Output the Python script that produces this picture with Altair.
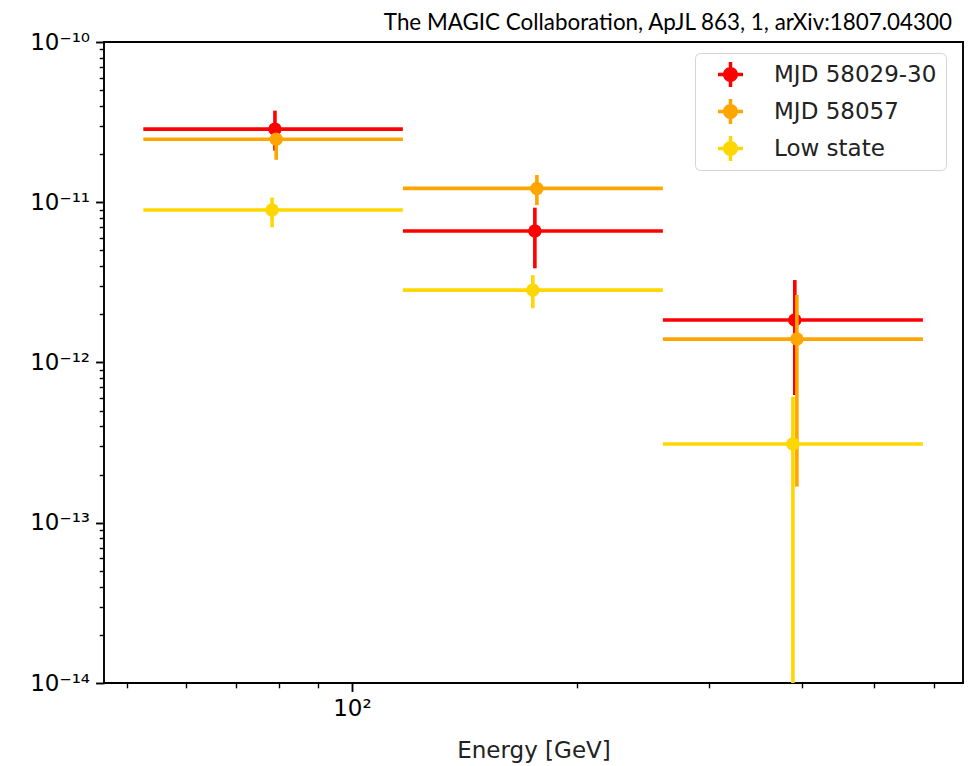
import altair as alt
import pandas as pd

# ---------------- data ----------------
series = ["MJD 58029-30", "MJD 58057", "Low state"]
colors = ["#ff0000", "#ffa500", "#ffd700"]

bin_lo = [52.6, 117.0, 260.6]
bin_hi = [117.0, 260.6, 580.6]

x_red = [78.9, 175.7, 391.3]
x_orange = [79.2, 176.8, 393.8]
x_low = [78.2, 174.6, 389.0]

flux_red = [2.86e-11, 6.62e-12, 1.84e-12]
flux_red_lo = [2.10e-11, 3.87e-12, 6.27e-13]
flux_red_hi = [3.73e-11, 9.25e-12, 3.27e-12]

flux_orange = [2.47e-11, 1.22e-11, 1.40e-12]
flux_orange_lo = [1.84e-11, 9.6e-12, 1.68e-13]
flux_orange_hi = [2.70e-11, 1.48e-11, 2.64e-12]

flux_low = [8.95e-12, 2.83e-12, 3.10e-13]
flux_low_lo = [6.98e-12, 2.18e-12, 1e-15]
flux_low_hi = [1.07e-11, 3.51e-12, 6.11e-13]

x_domain = [46.6, 656.9]
y_domain = [1e-14, 1e-10]
x_ticks = [50, 60, 70, 80, 90, 100, 200, 300, 400, 500, 600]
x_major = {100: "10²"}
y_major = {-14: "10⁻¹⁴", -13: "10⁻¹³", -12: "10⁻¹²", -11: "10⁻¹¹", -10: "10⁻¹⁰"}
y_ticks = [1e-10] + [m * 10.0 ** k for k in range(-14, -10) for m in range(1, 10)]

title_text = ["The MAGIC Collaboration, ApJL 863, 1, arXiv:1807.04300"]

# ---------------- styling ----------------
FONT = "DejaVu Sans"
FS = 23
LW = 3.6
W, H = 859, 641

exp_expr = "round(log(datum.value)/LN10)"
major_test = f"abs(log(datum.value)/LN10 - {exp_expr}) < 0.001"
y_label_expr = f"{major_test} ? (" + " : ".join(
    f"{exp_expr} == {k} ? '{v}'" for k, v in y_major.items()) + " : '') : ''"
x_label_expr = " : ".join(f"abs(datum.value - {k}) < 0.01 ? '{v}'" for k, v in x_major.items()) + " : ''"
x_major_test = " || ".join(f"abs(datum.value - {k}) < 0.01" for k in x_major)

xscale = alt.Scale(type="log", domain=x_domain, nice=False, zero=False)
yscale = alt.Scale(type="log", domain=y_domain, nice=False, zero=False)
cscale = alt.Scale(domain=series, range=colors)

xaxis = alt.Axis(
    title="Energy [GeV]", values=x_ticks, labelExpr=x_label_expr, grid=False,
    domain=False, labelOverlap=False, labelFlush=False,
    tickSize={"condition": {"test": x_major_test, "value": 8.4}, "value": 4.8},
    tickWidth={"condition": {"test": x_major_test, "value": 1.9}, "value": 1.4},
    labelPadding=6, titlePadding=19,
)
yaxis = alt.Axis(
    title=None, values=y_ticks, labelExpr=y_label_expr, grid=False,
    domain=False, labelOverlap=False, labelFlush=False,
    tickSize={"condition": {"test": major_test, "value": 8.4}, "value": 4.8},
    tickWidth={"condition": {"test": major_test, "value": 1.9}, "value": 1.4},
    labelPadding=6,
)

legend_symbol = ("M-0.6,0 A0.6,0.6 0 1,1 0.6,0 A0.6,0.6 0 1,1 -0.6,0 Z "
                 "M-0.14,-1 L0.14,-1 L0.14,1 L-0.14,1 Z "
                 "M-1,-0.14 L1,-0.14 L1,0.14 L-1,0.14 Z")
legend = alt.Legend(
    title=None, orient="none", legendX=591, legendY=11,
    symbolType=legend_symbol, symbolSize=625, symbolStrokeWidth=0,
    symbolOffset=14, labelOffset=31, rowPadding=12, padding=9, labelLimit=0,
    labelFont=FONT, labelFontSize=FS, labelColor="#222222",
    strokeColor="#d5d5d5", cornerRadius=5, fillColor="white",
)
color_enc = alt.Color("series:N", scale=cscale, legend=legend)

# empty point layer first, so that the shared legend uses filled symbols
legend_df = pd.DataFrame({"series": series, "e": [100.0] * 3, "flux": [1e-12] * 3})
legend_layer = alt.Chart(legend_df).transform_filter("false").mark_circle(size=180, opacity=1).encode(
    x=alt.X("e:Q", scale=xscale, axis=xaxis),
    y=alt.Y("flux:Q", scale=yscale, axis=yaxis),
    color=color_enc)


def layers(name, xs, f, lo, hi):
    df = pd.DataFrame({"series": name, "e": xs, "elo": bin_lo, "ehi": bin_hi,
                       "flux": f, "lo": lo, "hi": hi})
    base = alt.Chart(df)
    h = base.mark_rule(strokeWidth=LW, clip=True).encode(
        x=alt.X("elo:Q", scale=xscale, axis=xaxis), x2="ehi:Q",
        y=alt.Y("flux:Q", scale=yscale, axis=yaxis), color=color_enc)
    v = base.mark_rule(strokeWidth=LW, clip=True).encode(
        x=alt.X("e:Q", scale=xscale, axis=xaxis),
        y=alt.Y("lo:Q", scale=yscale, axis=yaxis), y2="hi:Q", color=color_enc)
    p = base.mark_circle(size=180, opacity=1, clip=True).encode(
        x=alt.X("e:Q", scale=xscale, axis=xaxis),
        y=alt.Y("flux:Q", scale=yscale, axis=yaxis), color=color_enc)
    return [h, v, p]


title_layer = alt.Chart(pd.DataFrame({"t": title_text})).mark_text(
    font="Lato", fontSize=22.4, align="right", baseline="alphabetic", color="black",
).encode(x=alt.value(W - 11), y=alt.value(-12), text="t:N")

all_layers = ([legend_layer]
              + layers(series[0], x_red, flux_red, flux_red_lo, flux_red_hi)
              + layers(series[1], x_orange, flux_orange, flux_orange_lo, flux_orange_hi)
              + layers(series[2], x_low, flux_low, flux_low_lo, flux_low_hi)
              + [title_layer])

chart = alt.layer(*all_layers).properties(
    width=W, height=H,
    autosize=alt.AutoSizeParams(type="none"),
    padding={"left": 104, "top": 42, "right": 7, "bottom": 83},
    background="white",
).configure_view(stroke="black", strokeWidth=1.9).configure_axis(
    labelFont=FONT, labelFontSize=FS, labelColor="black", tickColor="black",
    titleFont=FONT, titleFontSize=FS, titleFontWeight="normal", titleColor="#222222",
)

chart.save("out.html", embed_options={"renderer": "svg", "actions": False})
